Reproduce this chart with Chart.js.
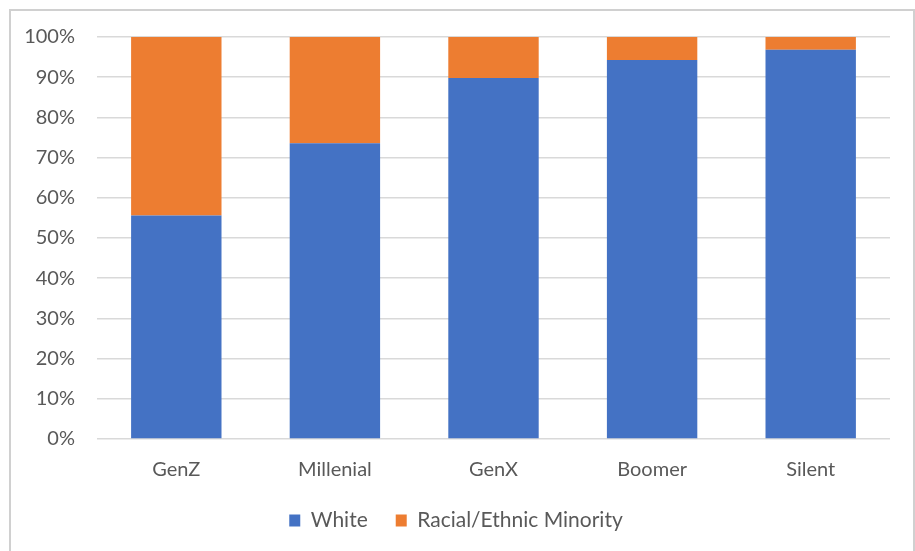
<!DOCTYPE html>
<html>
<head>
<meta charset="utf-8">
<script src="https://cdn.jsdelivr.net/npm/chart.js@4"></script>
<style>
  html, body { margin: 0; padding: 0; background: #fff; }
  #frame { position: absolute; left: 9px; top: 9px; width: 902px; height: 560px; border: 2px solid #d0d0d0; }
  #wrap { position: absolute; left: 0; top: 0; width: 915px; height: 551px; }
</style>
</head>
<body>
<div id="frame"></div>
<div id="wrap"><canvas id="genChart" width="915" height="551"></canvas></div>
<script>
// generations
var generations = ["GenZ", "Millenial", "GenX", "Boomer", "Silent"];
// percent of each generation
var whiteShare = [55.6, 73.6, 89.8, 94.3, 96.8];
var minorityShare = [44.4, 26.4, 10.2, 5.7, 3.2];
var yTicks = [0, 10, 20, 30, 40, 50, 60, 70, 80, 90, 100];

var textColor = "#595959";
var font = { family: "Lato, 'Open Sans', sans-serif", size: 20 };

// nudge legend a little right, like the original
var legendShift = {
    id: "legendShift",
    afterLayout: function (chart) {
        chart.legend.left += 11;
        chart.legend.right += 11;
    }
};

new Chart(document.getElementById("genChart").getContext("2d"), {
    type: "bar",
    data: {
        labels: generations,
        datasets: [
            {
                label: "White",
                data: whiteShare,
                backgroundColor: "#4472C4",
                categoryPercentage: 1,
                barPercentage: 0.57
            },
            {
                label: "Racial/Ethnic Minority",
                data: minorityShare,
                backgroundColor: "#ED7D31",
                categoryPercentage: 1,
                barPercentage: 0.57
            }
        ]
    },
    plugins: [legendShift],
    options: {
        responsive: false,
        animation: false,
        layout: { padding: { top: 37, right: 25, bottom: 10, left: 0 } },
        plugins: {
            tooltip: { enabled: false },
            legend: {
                position: "bottom",
                labels: {
                    color: textColor,
                    font: { family: font.family, size: 21 },
                    boxWidth: 11,
                    boxHeight: 12,
                    padding: 28
                }
            }
        },
        scales: {
            x: {
                stacked: true,
                grid: { display: false },
                border: { display: false },
                ticks: { color: textColor, font: font, padding: 11 },
                afterFit: function (scale) { scale.height = 43; }
            },
            y: {
                stacked: true,
                min: 0,
                max: 100,
                afterBuildTicks: function (scale) {
                    scale.ticks = yTicks.map(function (v) { return { value: v }; });
                },
                grid: { color: "#d9d9d9", lineWidth: 1.5, drawTicks: false },
                border: { display: false },
                ticks: {
                    color: textColor,
                    font: font,
                    padding: 22,
                    callback: function (v) { return v + "%"; }
                },
                afterFit: function (scale) { scale.width = 97; }
            }
        }
    }
});
</script>
</body>
</html>
